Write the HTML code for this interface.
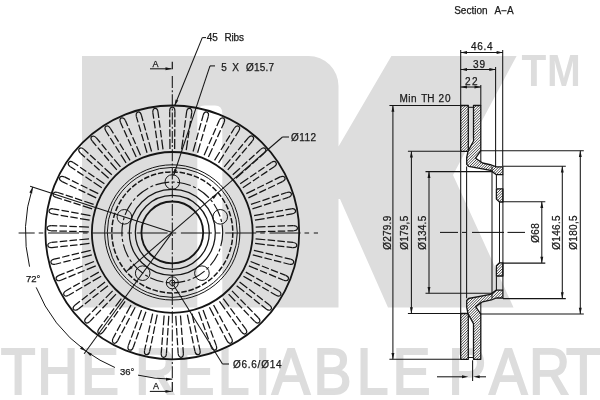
<!DOCTYPE html>
<html lang="en">
<head>
<meta charset="utf-8">
<title>NK brake disc drawing</title>
<style>
html,body{margin:0;padding:0;background:#fff;}
body{width:600px;height:400px;overflow:hidden;font-family:"Liberation Sans",sans-serif;}
svg{display:block;will-change:transform;}
svg text{font-family:"Liberation Sans",sans-serif;}
.wm path,.wm text{fill:#dddddd;}
.ln *{stroke:#151515;fill:none;}
.ah{fill:#151515;stroke:none;}
.tx text{fill:#1a1a1a;stroke:#1a1a1a;stroke-width:0.25;}
.wm .tag{stroke:#dddddd;stroke-width:2;stroke-linejoin:miter;}
.sec .bg{fill:#fff;stroke:none;}
.sec .hl{stroke:#151515;stroke-width:0.8;fill:none;}
.sec .ol{fill:none;stroke:#151515;stroke-width:1.3;stroke-linejoin:round;}
</style>
</head>
<body>
<svg width="600" height="400" viewBox="0 0 600 400">
<rect width="600" height="400" fill="#fff"/>
<g class="wm">
<path d="M82 56 H308.5 A30 30 0 0 1 338.5 86 V146.5 L391.4 56 H516.6 L453 175 L513.5 307.4 H388 L340 199 H338.5 V307.4 H222.3 V113.5 Q222.3 105.5 215 105.5 H204.5 Q197.3 105.5 197.3 112 V307.4 H82 Z"/>
<text transform="scale(0.93 1)" x="560.76 588.29" y="86.3" font-size="43.6" font-weight="bold">TM</text>
<text class="tag" transform="scale(0.875 1)" x="0.99 42.62 92.45 122.45 154.36 201.7 248.77 291.13 310.86 358.25 407.74 448.62 478.62 512.19 559.15 604.48 646.99" y="393.7" font-size="65.1">THE RELIABLE PART</text>
</g>
<g class="ln">
<circle cx="172.3" cy="232.4" r="126.9" stroke-width="1.8"/>
<circle cx="172.3" cy="232.4" r="80.4" stroke-width="1.8"/>
<circle cx="172.3" cy="232.4" r="30.9" stroke-width="1.8"/>
<circle cx="172.3" cy="232.4" r="37" stroke-width="1.25"/>
<circle cx="172.3" cy="232.4" r="43" stroke-width="1.25"/>
<circle cx="172.3" cy="232.4" r="60.5" stroke-width="1.5" stroke-dasharray="5.5 1.8"/>
<circle cx="172.3" cy="232.4" r="65" stroke-width="1.0"/>
<circle cx="172.3" cy="232.4" r="67.6" stroke-width="1.0"/>
<circle cx="172.3" cy="232.4" r="50.4" stroke-width="1.15" stroke-dasharray="14 2.5 3 2.5"/>
<circle cx="172.3" cy="182" r="7.3" stroke-width="1.0"/>
<circle cx="124.37" cy="216.83" r="7.3" stroke-width="1.0"/>
<circle cx="142.68" cy="273.17" r="7.3" stroke-width="1.0"/>
<circle cx="201.92" cy="273.17" r="7.3" stroke-width="1.0"/>
<circle cx="220.23" cy="216.83" r="7.3" stroke-width="1.0"/>
<circle cx="172.3" cy="282.8" r="2.7" stroke-width="1.0"/>
<circle cx="172.3" cy="282.8" r="6" stroke-width="1.0"/>
<path d="M169.7 111.2 L169.95 148.9M174.9 111.2 L174.65 148.9" stroke-width="1.25" stroke-dasharray="6 2.3 7.5 2.3 7.5 2.3 12 2.3"/>
<path d="M169.7 111.2 A4.0 2.6 270 0 1 174.9 111.2" stroke-width="1.2"/>
<path d="M152.86 112.74 L158.35 150.04M158.01 112.02 L163.01 149.39" stroke-width="1.25" stroke-dasharray="6 2.3 7.5 2.3 7.5 2.3 12 2.3"/>
<path d="M152.86 112.74 A4.0 2.6 262 0 1 158.01 112.02" stroke-width="1.2"/>
<path d="M136.39 116.61 L147.03 152.78M141.39 115.18 L151.54 151.49" stroke-width="1.25" stroke-dasharray="6 2.3 7.5 2.3 7.5 2.3 12 2.3"/>
<path d="M136.39 116.61 A4.0 2.6 254 0 1 141.39 115.18" stroke-width="1.2"/>
<path d="M120.63 122.74 L136.19 157.07M125.38 120.62 L140.48 155.16" stroke-width="1.25" stroke-dasharray="6 2.3 7.5 2.3 7.5 2.3 12 2.3"/>
<path d="M120.63 122.74 A4.0 2.6 246 0 1 125.38 120.62" stroke-width="1.2"/>
<path d="M105.87 130.99 L126.06 162.83M110.28 128.24 L130.04 160.34" stroke-width="1.25" stroke-dasharray="6 2.3 7.5 2.3 7.5 2.3 12 2.3"/>
<path d="M105.87 130.99 A4.0 2.6 238 0 1 110.28 128.24" stroke-width="1.2"/>
<path d="M92.4 141.23 L116.83 169.95M96.39 137.88 L120.43 166.92" stroke-width="1.25" stroke-dasharray="6 2.3 7.5 2.3 7.5 2.3 12 2.3"/>
<path d="M92.4 141.23 A4.0 2.6 230 0 1 96.39 137.88" stroke-width="1.2"/>
<path d="M80.49 153.23 L108.67 178.27M83.97 149.37 L111.82 174.78" stroke-width="1.25" stroke-dasharray="6 2.3 7.5 2.3 7.5 2.3 12 2.3"/>
<path d="M80.49 153.23 A4.0 2.6 222 0 1 83.97 149.37" stroke-width="1.2"/>
<path d="M70.37 166.78 L101.76 187.66M73.27 162.47 L104.39 183.76" stroke-width="1.25" stroke-dasharray="6 2.3 7.5 2.3 7.5 2.3 12 2.3"/>
<path d="M70.37 166.78 A4.0 2.6 214 0 1 73.27 162.47" stroke-width="1.2"/>
<path d="M62.23 181.61 L96.22 197.91M64.51 176.93 L98.28 193.68" stroke-width="1.25" stroke-dasharray="6 2.3 7.5 2.3 7.5 2.3 12 2.3"/>
<path d="M62.23 181.61 A4.0 2.6 206 0 1 64.51 176.93" stroke-width="1.2"/>
<path d="M56.23 197.42 L92.16 208.83M57.84 192.47 L93.61 204.36" stroke-width="1.25" stroke-dasharray="6 2.3 7.5 2.3 7.5 2.3 12 2.3"/>
<path d="M56.23 197.42 A4.0 2.6 198 0 1 57.84 192.47" stroke-width="1.2"/>
<path d="M52.49 213.91 L89.66 220.21M53.39 208.79 L90.48 215.59" stroke-width="1.25" stroke-dasharray="6 2.3 7.5 2.3 7.5 2.3 12 2.3"/>
<path d="M52.49 213.91 A4.0 2.6 190 0 1 53.39 208.79" stroke-width="1.2"/>
<path d="M51.08 230.77 L88.77 231.83M51.26 225.57 L88.93 227.14" stroke-width="1.25" stroke-dasharray="6 2.3 7.5 2.3 7.5 2.3 12 2.3"/>
<path d="M51.08 230.77 A4.0 2.6 182 0 1 51.26 225.57" stroke-width="1.2"/>
<path d="M52.04 247.65 L89.5 243.47M51.49 242.48 L89.01 238.79" stroke-width="1.25" stroke-dasharray="6 2.3 7.5 2.3 7.5 2.3 12 2.3"/>
<path d="M52.04 247.65 A4.0 2.6 174 0 1 51.49 242.48" stroke-width="1.2"/>
<path d="M55.33 264.24 L91.85 254.88M54.07 259.2 L90.71 250.32" stroke-width="1.25" stroke-dasharray="6 2.3 7.5 2.3 7.5 2.3 12 2.3"/>
<path d="M55.33 264.24 A4.0 2.6 166 0 1 54.07 259.2" stroke-width="1.2"/>
<path d="M60.9 280.21 L95.76 265.86M58.95 275.39 L94 261.5" stroke-width="1.25" stroke-dasharray="6 2.3 7.5 2.3 7.5 2.3 12 2.3"/>
<path d="M60.9 280.21 A4.0 2.6 158 0 1 58.95 275.39" stroke-width="1.2"/>
<path d="M68.64 295.25 L101.16 276.19M66.04 290.75 L98.81 272.11" stroke-width="1.25" stroke-dasharray="6 2.3 7.5 2.3 7.5 2.3 12 2.3"/>
<path d="M68.64 295.25 A4.0 2.6 150 0 1 66.04 290.75" stroke-width="1.2"/>
<path d="M78.39 309.07 L107.95 285.66M75.19 304.97 L105.05 281.96" stroke-width="1.25" stroke-dasharray="6 2.3 7.5 2.3 7.5 2.3 12 2.3"/>
<path d="M78.39 309.07 A4.0 2.6 142 0 1 75.19 304.97" stroke-width="1.2"/>
<path d="M89.98 321.39 L115.99 294.1M86.24 317.78 L112.61 290.83" stroke-width="1.25" stroke-dasharray="6 2.3 7.5 2.3 7.5 2.3 12 2.3"/>
<path d="M89.98 321.39 A4.0 2.6 134 0 1 86.24 317.78" stroke-width="1.2"/>
<path d="M103.16 331.98 L125.12 301.33M98.96 328.92 L121.32 298.57" stroke-width="1.25" stroke-dasharray="6 2.3 7.5 2.3 7.5 2.3 12 2.3"/>
<path d="M103.16 331.98 A4.0 2.6 126 0 1 98.96 328.92" stroke-width="1.2"/>
<path d="M117.7 340.63 L135.17 307.23M113.1 338.19 L131.02 305.02" stroke-width="1.25" stroke-dasharray="6 2.3 7.5 2.3 7.5 2.3 12 2.3"/>
<path d="M117.7 340.63 A4.0 2.6 118 0 1 113.1 338.19" stroke-width="1.2"/>
<path d="M133.29 347.18 L145.95 311.67M128.4 345.4 L141.53 310.06" stroke-width="1.25" stroke-dasharray="6 2.3 7.5 2.3 7.5 2.3 12 2.3"/>
<path d="M133.29 347.18 A4.0 2.6 110 0 1 128.4 345.4" stroke-width="1.2"/>
<path d="M149.64 351.49 L157.24 314.56M144.56 350.41 L152.64 313.59" stroke-width="1.25" stroke-dasharray="6 2.3 7.5 2.3 7.5 2.3 12 2.3"/>
<path d="M149.64 351.49 A4.0 2.6 102 0 1 144.56 350.41" stroke-width="1.2"/>
<path d="M166.44 353.49 L168.82 315.86M161.25 353.12 L164.13 315.53" stroke-width="1.25" stroke-dasharray="6 2.3 7.5 2.3 7.5 2.3 12 2.3"/>
<path d="M166.44 353.49 A4.0 2.6 94 0 1 161.25 353.12" stroke-width="1.2"/>
<path d="M183.35 353.12 L180.47 315.53M178.16 353.49 L175.78 315.86" stroke-width="1.25" stroke-dasharray="6 2.3 7.5 2.3 7.5 2.3 12 2.3"/>
<path d="M183.35 353.12 A4.0 2.6 86 0 1 178.16 353.49" stroke-width="1.2"/>
<path d="M200.04 350.41 L191.96 313.59M194.96 351.49 L187.36 314.56" stroke-width="1.25" stroke-dasharray="6 2.3 7.5 2.3 7.5 2.3 12 2.3"/>
<path d="M200.04 350.41 A4.0 2.6 78 0 1 194.96 351.49" stroke-width="1.2"/>
<path d="M216.2 345.4 L203.07 310.06M211.31 347.18 L198.65 311.67" stroke-width="1.25" stroke-dasharray="6 2.3 7.5 2.3 7.5 2.3 12 2.3"/>
<path d="M216.2 345.4 A4.0 2.6 70 0 1 211.31 347.18" stroke-width="1.2"/>
<path d="M231.5 338.19 L213.58 305.02M226.9 340.63 L209.43 307.23" stroke-width="1.25" stroke-dasharray="6 2.3 7.5 2.3 7.5 2.3 12 2.3"/>
<path d="M231.5 338.19 A4.0 2.6 62 0 1 226.9 340.63" stroke-width="1.2"/>
<path d="M245.64 328.92 L223.28 298.57M241.44 331.98 L219.48 301.33" stroke-width="1.25" stroke-dasharray="6 2.3 7.5 2.3 7.5 2.3 12 2.3"/>
<path d="M245.64 328.92 A4.0 2.6 54 0 1 241.44 331.98" stroke-width="1.2"/>
<path d="M258.36 317.78 L231.99 290.83M254.62 321.39 L228.61 294.1" stroke-width="1.25" stroke-dasharray="6 2.3 7.5 2.3 7.5 2.3 12 2.3"/>
<path d="M258.36 317.78 A4.0 2.6 46 0 1 254.62 321.39" stroke-width="1.2"/>
<path d="M269.41 304.97 L239.55 281.96M266.21 309.07 L236.65 285.66" stroke-width="1.25" stroke-dasharray="6 2.3 7.5 2.3 7.5 2.3 12 2.3"/>
<path d="M269.41 304.97 A4.0 2.6 38 0 1 266.21 309.07" stroke-width="1.2"/>
<path d="M278.56 290.75 L245.79 272.11M275.96 295.25 L243.44 276.19" stroke-width="1.25" stroke-dasharray="6 2.3 7.5 2.3 7.5 2.3 12 2.3"/>
<path d="M278.56 290.75 A4.0 2.6 30 0 1 275.96 295.25" stroke-width="1.2"/>
<path d="M285.65 275.39 L250.6 261.5M283.7 280.21 L248.84 265.86" stroke-width="1.25" stroke-dasharray="6 2.3 7.5 2.3 7.5 2.3 12 2.3"/>
<path d="M285.65 275.39 A4.0 2.6 22 0 1 283.7 280.21" stroke-width="1.2"/>
<path d="M290.53 259.2 L253.89 250.32M289.27 264.24 L252.75 254.88" stroke-width="1.25" stroke-dasharray="6 2.3 7.5 2.3 7.5 2.3 12 2.3"/>
<path d="M290.53 259.2 A4.0 2.6 14 0 1 289.27 264.24" stroke-width="1.2"/>
<path d="M293.11 242.48 L255.59 238.79M292.56 247.65 L255.1 243.47" stroke-width="1.25" stroke-dasharray="6 2.3 7.5 2.3 7.5 2.3 12 2.3"/>
<path d="M293.11 242.48 A4.0 2.6 6 0 1 292.56 247.65" stroke-width="1.2"/>
<path d="M293.34 225.57 L255.67 227.14M293.52 230.77 L255.83 231.83" stroke-width="1.25" stroke-dasharray="6 2.3 7.5 2.3 7.5 2.3 12 2.3"/>
<path d="M293.34 225.57 A4.0 2.6 358 0 1 293.52 230.77" stroke-width="1.2"/>
<path d="M291.21 208.79 L254.12 215.59M292.11 213.91 L254.94 220.21" stroke-width="1.25" stroke-dasharray="6 2.3 7.5 2.3 7.5 2.3 12 2.3"/>
<path d="M291.21 208.79 A4.0 2.6 350 0 1 292.11 213.91" stroke-width="1.2"/>
<path d="M286.76 192.47 L250.99 204.36M288.37 197.42 L252.44 208.83" stroke-width="1.25" stroke-dasharray="6 2.3 7.5 2.3 7.5 2.3 12 2.3"/>
<path d="M286.76 192.47 A4.0 2.6 342 0 1 288.37 197.42" stroke-width="1.2"/>
<path d="M280.09 176.93 L246.32 193.68M282.37 181.61 L248.38 197.91" stroke-width="1.25" stroke-dasharray="6 2.3 7.5 2.3 7.5 2.3 12 2.3"/>
<path d="M280.09 176.93 A4.0 2.6 334 0 1 282.37 181.61" stroke-width="1.2"/>
<path d="M271.33 162.47 L240.21 183.76M274.23 166.78 L242.84 187.66" stroke-width="1.25" stroke-dasharray="6 2.3 7.5 2.3 7.5 2.3 12 2.3"/>
<path d="M271.33 162.47 A4.0 2.6 326 0 1 274.23 166.78" stroke-width="1.2"/>
<path d="M260.63 149.37 L232.78 174.78M264.11 153.23 L235.93 178.27" stroke-width="1.25" stroke-dasharray="6 2.3 7.5 2.3 7.5 2.3 12 2.3"/>
<path d="M260.63 149.37 A4.0 2.6 318 0 1 264.11 153.23" stroke-width="1.2"/>
<path d="M248.21 137.88 L224.17 166.92M252.2 141.23 L227.77 169.95" stroke-width="1.25" stroke-dasharray="6 2.3 7.5 2.3 7.5 2.3 12 2.3"/>
<path d="M248.21 137.88 A4.0 2.6 310 0 1 252.2 141.23" stroke-width="1.2"/>
<path d="M234.32 128.24 L214.56 160.34M238.73 130.99 L218.54 162.83" stroke-width="1.25" stroke-dasharray="6 2.3 7.5 2.3 7.5 2.3 12 2.3"/>
<path d="M234.32 128.24 A4.0 2.6 302 0 1 238.73 130.99" stroke-width="1.2"/>
<path d="M219.22 120.62 L204.12 155.16M223.97 122.74 L208.41 157.07" stroke-width="1.25" stroke-dasharray="6 2.3 7.5 2.3 7.5 2.3 12 2.3"/>
<path d="M219.22 120.62 A4.0 2.6 294 0 1 223.97 122.74" stroke-width="1.2"/>
<path d="M203.21 115.18 L193.06 151.49M208.21 116.61 L197.57 152.78" stroke-width="1.25" stroke-dasharray="6 2.3 7.5 2.3 7.5 2.3 12 2.3"/>
<path d="M203.21 115.18 A4.0 2.6 286 0 1 208.21 116.61" stroke-width="1.2"/>
<path d="M186.59 112.02 L181.59 149.39M191.74 112.74 L186.25 150.04" stroke-width="1.25" stroke-dasharray="6 2.3 7.5 2.3 7.5 2.3 12 2.3"/>
<path d="M186.59 112.02 A4.0 2.6 278 0 1 191.74 112.74" stroke-width="1.2"/>
<line x1="172.3" y1="61.7" x2="172.3" y2="69.3" stroke-width="1.2"/>
<line x1="172.3" y1="76" x2="172.3" y2="226" stroke-width="1.05" stroke-dasharray="12 2.2 2 2.1"/>
<line x1="172.3" y1="378.2" x2="172.3" y2="226" stroke-width="1.05" stroke-dasharray="12 2.2 2 2.1"/>
<line x1="172.3" y1="382" x2="172.3" y2="391.8" stroke-width="1.2"/>
<line x1="18.6" y1="232.9" x2="318" y2="232.9" stroke-width="1.05" stroke-dasharray="31 4 4.6 4.7" stroke-dashoffset="14.9"/>
<line x1="172.3" y1="232.4" x2="30.12" y2="186.2" stroke-width="1.05"/>
<line x1="172.3" y1="232.4" x2="84.13" y2="353.75" stroke-width="1.05"/>
<path d="M32.68 187.04 A146.8 146.8 0 0 0 29.56 266.67" stroke-width="1.0"/>
<path d="M36.19 287.39 A146.8 146.8 0 0 0 86.01 351.16" stroke-width="1.0"/>
<path d="M86.01 351.16 A146.8 146.8 0 0 0 114.94 367.53" stroke-width="1.0"/>
<path d="M138.03 375.14 A146.8 146.8 0 0 0 172.3 379.2" stroke-width="1.0"/>
<line x1="282.5" y1="137" x2="126.99" y2="270.96" stroke-width="1.05"/>
<line x1="282.5" y1="137" x2="289" y2="137" stroke-width="1.05"/>
<line x1="206" y1="37.6" x2="202.3" y2="37.6" stroke-width="1.05"/>
<line x1="202.3" y1="37.6" x2="174.6" y2="105.8" stroke-width="1.05"/>
<line x1="215" y1="65.9" x2="210" y2="65.9" stroke-width="1.05"/>
<line x1="210" y1="65.9" x2="173.6" y2="175.5" stroke-width="1.05"/>
<line x1="173.5" y1="285" x2="222.5" y2="364" stroke-width="1.05"/>
<line x1="222.5" y1="364" x2="229" y2="364" stroke-width="1.05"/>
<line x1="150" y1="68.8" x2="171.5" y2="68.8" stroke-width="1.05"/>
<line x1="149.8" y1="391.4" x2="171.5" y2="391.4" stroke-width="1.05"/>
</g>
<g>
<polygon class="ah" points="171.8,68.8 165.5,70.25 165.5,67.35"/>
<polygon class="ah" points="171.8,391.4 165.5,392.85 165.5,389.95"/>
<polygon class="ah" points="174.6,105.8 175.63,99.42 178.31,100.51"/>
<polygon class="ah" points="173.6,175.5 174.21,169.06 176.96,169.98"/>
<polygon class="ah" points="126.99,270.96 130.82,265.75 132.71,267.95"/>
<polygon class="ah" points="217.61,193.84 213.78,199.05 211.89,196.85"/>
<polygon class="ah" points="32.68,187.04 32.12,193.48 29.36,192.58"/>
<polygon class="ah" points="86.01,351.16 80.06,348.63 81.77,346.29"/>
<polygon class="ah" points="86.01,351.16 91.96,353.69 90.26,356.04"/>
<polygon class="ah" points="172.3,379.2 166,380.65 166,377.75"/>
</g>
<clipPath id="secclip">
<polygon points="460.7,105.5 468.3,105.5 468.3,150.6 473.5,141 473.5,105.5 480.8,105.5 480.8,150.6 475.6,158.2 482.5,163 491.4,165 496.4,166.8 502.9,166.8 502.9,174.7 496.4,174.7 490.5,170.4 468.6,166.3 466.7,164.4 466.7,157.5 468,151.3 460.7,151.3"/>
<polygon points="460.7,359.3 468.3,359.3 468.3,314.2 473.5,323.8 473.5,359.3 480.8,359.3 480.8,314.2 475.6,306.6 482.5,301.8 491.4,299.8 496.4,298 502.9,298 502.9,290.1 496.4,290.1 490.5,294.4 468.6,298.5 466.7,300.4 466.7,307.3 468,313.5 460.7,313.5"/>
<polygon points="496.4,188.8 502.9,188.8 502.9,202 499.5,202 496.4,199.1"/>
<polygon points="496.4,276 502.9,276 502.9,262.8 499.5,262.8 496.4,265.7"/>
</clipPath>
<g class="sec">
<polygon class="bg" points="460.7,105.5 468.3,105.5 468.3,150.6 473.5,141 473.5,105.5 480.8,105.5 480.8,150.6 475.6,158.2 482.5,163 491.4,165 496.4,166.8 502.9,166.8 502.9,174.7 496.4,174.7 490.5,170.4 468.6,166.3 466.7,164.4 466.7,157.5 468,151.3 460.7,151.3"/>
<polygon class="bg" points="460.7,359.3 468.3,359.3 468.3,314.2 473.5,323.8 473.5,359.3 480.8,359.3 480.8,314.2 475.6,306.6 482.5,301.8 491.4,299.8 496.4,298 502.9,298 502.9,290.1 496.4,290.1 490.5,294.4 468.6,298.5 466.7,300.4 466.7,307.3 468,313.5 460.7,313.5"/>
<polygon class="bg" points="496.4,188.8 502.9,188.8 502.9,202 499.5,202 496.4,199.1"/>
<polygon class="bg" points="496.4,276 502.9,276 502.9,262.8 499.5,262.8 496.4,265.7"/>
<path class="hl" clip-path="url(#secclip)" d="M455 100L190 365M457.7 100L192.7 365M460.4 100L195.4 365M463.1 100L198.1 365M465.8 100L200.8 365M468.5 100L203.5 365M471.2 100L206.2 365M473.9 100L208.9 365M476.6 100L211.6 365M479.3 100L214.3 365M482 100L217 365M484.7 100L219.7 365M487.4 100L222.4 365M490.1 100L225.1 365M492.8 100L227.8 365M495.5 100L230.5 365M498.2 100L233.2 365M500.9 100L235.9 365M503.6 100L238.6 365M506.3 100L241.3 365M509 100L244 365M511.7 100L246.7 365M514.4 100L249.4 365M517.1 100L252.1 365M519.8 100L254.8 365M522.5 100L257.5 365M525.2 100L260.2 365M527.9 100L262.9 365M530.6 100L265.6 365M533.3 100L268.3 365M536 100L271 365M538.7 100L273.7 365M541.4 100L276.4 365M544.1 100L279.1 365M546.8 100L281.8 365M549.5 100L284.5 365M552.2 100L287.2 365M554.9 100L289.9 365M557.6 100L292.6 365M560.3 100L295.3 365M563 100L298 365M565.7 100L300.7 365M568.4 100L303.4 365M571.1 100L306.1 365M573.8 100L308.8 365M576.5 100L311.5 365M579.2 100L314.2 365M581.9 100L316.9 365M584.6 100L319.6 365M587.3 100L322.3 365M590 100L325 365M592.7 100L327.7 365M595.4 100L330.4 365M598.1 100L333.1 365M600.8 100L335.8 365M603.5 100L338.5 365M606.2 100L341.2 365M608.9 100L343.9 365M611.6 100L346.6 365M614.3 100L349.3 365M617 100L352 365M619.7 100L354.7 365M622.4 100L357.4 365M625.1 100L360.1 365M627.8 100L362.8 365M630.5 100L365.5 365M633.2 100L368.2 365M635.9 100L370.9 365M638.6 100L373.6 365M641.3 100L376.3 365M644 100L379 365M646.7 100L381.7 365M649.4 100L384.4 365M652.1 100L387.1 365M654.8 100L389.8 365M657.5 100L392.5 365M660.2 100L395.2 365M662.9 100L397.9 365M665.6 100L400.6 365M668.3 100L403.3 365M671 100L406 365M673.7 100L408.7 365M676.4 100L411.4 365M679.1 100L414.1 365M681.8 100L416.8 365M684.5 100L419.5 365M687.2 100L422.2 365M689.9 100L424.9 365M692.6 100L427.6 365M695.3 100L430.3 365M698 100L433 365M700.7 100L435.7 365M703.4 100L438.4 365M706.1 100L441.1 365M708.8 100L443.8 365M711.5 100L446.5 365M714.2 100L449.2 365M716.9 100L451.9 365M719.6 100L454.6 365M722.3 100L457.3 365M725 100L460 365M727.7 100L462.7 365M730.4 100L465.4 365M733.1 100L468.1 365M735.8 100L470.8 365M738.5 100L473.5 365M741.2 100L476.2 365M743.9 100L478.9 365M746.6 100L481.6 365M749.3 100L484.3 365M752 100L487 365M754.7 100L489.7 365M757.4 100L492.4 365M760.1 100L495.1 365M762.8 100L497.8 365M765.5 100L500.5 365M768.2 100L503.2 365M770.9 100L505.9 365M773.6 100L508.6 365"/>
<polygon class="ol" points="460.7,105.5 468.3,105.5 468.3,150.6 473.5,141 473.5,105.5 480.8,105.5 480.8,150.6 475.6,158.2 482.5,163 491.4,165 496.4,166.8 502.9,166.8 502.9,174.7 496.4,174.7 490.5,170.4 468.6,166.3 466.7,164.4 466.7,157.5 468,151.3 460.7,151.3"/>
<polygon class="ol" points="460.7,359.3 468.3,359.3 468.3,314.2 473.5,323.8 473.5,359.3 480.8,359.3 480.8,314.2 475.6,306.6 482.5,301.8 491.4,299.8 496.4,298 502.9,298 502.9,290.1 496.4,290.1 490.5,294.4 468.6,298.5 466.7,300.4 466.7,307.3 468,313.5 460.7,313.5"/>
<polygon class="ol" points="496.4,188.8 502.9,188.8 502.9,202 499.5,202 496.4,199.1"/>
<polygon class="ol" points="496.4,276 502.9,276 502.9,262.8 499.5,262.8 496.4,265.7"/>
</g>
<g class="ln">
<line x1="466.6" y1="166.5" x2="466.6" y2="298.3" stroke-width="1.05"/>
<line x1="492" y1="166.5" x2="492" y2="298.3" stroke-width="1.05"/>
<line x1="460.7" y1="151.3" x2="460.7" y2="313.5" stroke-width="1.05"/>
<line x1="502.9" y1="174.7" x2="502.9" y2="290.1" stroke-width="1.05"/>
<line x1="496.4" y1="174.7" x2="496.4" y2="188.6" stroke-width="1.05"/>
<line x1="496.4" y1="290.1" x2="496.4" y2="276.2" stroke-width="1.05"/>
<line x1="499.5" y1="202" x2="499.5" y2="262.8" stroke-width="1.05"/>
<line x1="480.8" y1="150.6" x2="480.8" y2="162.5" stroke-width="1.05"/>
<line x1="480.8" y1="314.2" x2="480.8" y2="302.3" stroke-width="1.05"/>
<line x1="440" y1="232.4" x2="458" y2="232.4" stroke-width="1.05"/>
<line x1="462" y1="232.4" x2="466.5" y2="232.4" stroke-width="1.05"/>
<line x1="472" y1="232.4" x2="504" y2="232.4" stroke-width="1.05"/>
<line x1="507.5" y1="232.4" x2="525" y2="232.4" stroke-width="1.05"/>
<line x1="468.3" y1="107.3" x2="473.5" y2="107.3" stroke-width="1.05"/>
<line x1="468.3" y1="357.5" x2="473.5" y2="357.5" stroke-width="1.05"/>
<line x1="460.7" y1="50" x2="460.7" y2="105.5" stroke-width="1.05"/>
<line x1="502.7" y1="50" x2="502.7" y2="166.2" stroke-width="1.05"/>
<line x1="495.6" y1="67" x2="495.6" y2="166.2" stroke-width="1.05"/>
<line x1="480.8" y1="85" x2="480.8" y2="105.5" stroke-width="1.05"/>
<line x1="460.7" y1="52.5" x2="502.9" y2="52.5" stroke-width="1.05"/>
<line x1="460.7" y1="69.5" x2="495.6" y2="69.5" stroke-width="1.05"/>
<line x1="460.7" y1="87" x2="480.8" y2="87" stroke-width="1.05"/>
<line x1="392.9" y1="105.5" x2="392.9" y2="359.3" stroke-width="1.05"/>
<line x1="389.4" y1="105.5" x2="460.7" y2="105.5" stroke-width="1.05"/>
<line x1="389.4" y1="359.3" x2="460.7" y2="359.3" stroke-width="1.05"/>
<line x1="411.4" y1="151.3" x2="411.4" y2="313.5" stroke-width="1.05"/>
<line x1="407.9" y1="151.3" x2="460.7" y2="151.3" stroke-width="1.05"/>
<line x1="407.9" y1="313.5" x2="460.7" y2="313.5" stroke-width="1.05"/>
<line x1="429" y1="171.6" x2="429" y2="293.2" stroke-width="1.05"/>
<line x1="425.5" y1="171.6" x2="491.6" y2="171.6" stroke-width="1.05"/>
<line x1="425.5" y1="293.2" x2="491.6" y2="293.2" stroke-width="1.05"/>
<line x1="541.8" y1="201.7" x2="541.8" y2="263.1" stroke-width="1.05"/>
<line x1="502.9" y1="201.7" x2="545.3" y2="201.7" stroke-width="1.05"/>
<line x1="502.9" y1="263.1" x2="545.3" y2="263.1" stroke-width="1.05"/>
<line x1="562.3" y1="166.2" x2="562.3" y2="298.6" stroke-width="1.05"/>
<line x1="502.9" y1="166.2" x2="565.8" y2="166.2" stroke-width="1.05"/>
<line x1="502.9" y1="298.6" x2="565.8" y2="298.6" stroke-width="1.05"/>
<line x1="580.3" y1="150.8" x2="580.3" y2="314" stroke-width="1.05"/>
<line x1="480.8" y1="150.8" x2="583.8" y2="150.8" stroke-width="1.05"/>
<line x1="480.8" y1="314" x2="583.8" y2="314" stroke-width="1.05"/>
<line x1="437" y1="376.8" x2="463" y2="376.8" stroke-width="1.05"/>
<line x1="478" y1="376.8" x2="486" y2="376.8" stroke-width="1.05"/>
<line x1="472.6" y1="360.3" x2="472.6" y2="381" stroke-width="1.05"/>
</g>
<g>
<polygon class="ah" points="392.9,105.5 394.35,111.8 391.45,111.8"/>
<polygon class="ah" points="392.9,359.3 391.45,353 394.35,353"/>
<polygon class="ah" points="411.4,151.3 412.85,157.6 409.95,157.6"/>
<polygon class="ah" points="411.4,313.5 409.95,307.2 412.85,307.2"/>
<polygon class="ah" points="429,171.6 430.45,177.9 427.55,177.9"/>
<polygon class="ah" points="429,293.2 427.55,286.9 430.45,286.9"/>
<polygon class="ah" points="541.8,201.7 543.25,208 540.35,208"/>
<polygon class="ah" points="541.8,263.1 540.35,256.8 543.25,256.8"/>
<polygon class="ah" points="562.3,166.2 563.75,172.5 560.85,172.5"/>
<polygon class="ah" points="562.3,298.6 560.85,292.3 563.75,292.3"/>
<polygon class="ah" points="580.3,150.8 581.75,157.1 578.85,157.1"/>
<polygon class="ah" points="580.3,314 578.85,307.7 581.75,307.7"/>
<polygon class="ah" points="460.7,52.5 467,51.05 467,53.95"/>
<polygon class="ah" points="502.9,52.5 496.6,53.95 496.6,51.05"/>
<polygon class="ah" points="460.7,69.5 467,68.05 467,70.95"/>
<polygon class="ah" points="495.6,69.5 489.3,70.95 489.3,68.05"/>
<polygon class="ah" points="460.7,87 467,85.55 467,88.45"/>
<polygon class="ah" points="480.8,87 474.5,88.45 474.5,85.55"/>
<polygon class="ah" points="468.3,376.8 462,378.25 462,375.35"/>
<polygon class="ah" points="473.4,376.8 479.7,375.35 479.7,378.25"/>
</g>
<g class="tx">
<text y="14.3" font-size="10"><tspan x="454.2">Section</tspan> <tspan x="494.5">A−A</tspan></text>
<text y="40.9" font-size="10"><tspan x="206.8">45</tspan> <tspan x="224.5" textLength="19.5" lengthAdjust="spacing">Ribs</tspan></text>
<text y="70.8" font-size="10"><tspan x="221.2">5</tspan> <tspan x="232.3">X</tspan> <tspan x="246" textLength="28" lengthAdjust="spacing">Ø15.7</tspan></text>
<text x="291" y="141.2" font-size="10" textLength="25" lengthAdjust="spacing">Ø112</text>
<text x="233" y="367.6" font-size="10" textLength="48.5" lengthAdjust="spacing">Ø6.6/Ø14</text>
<text x="152.4" y="66.8" font-size="9">A</text>
<text x="153" y="389.3" font-size="9">A</text>
<text x="26" y="282.2" font-size="9.5">72°</text>
<text x="120" y="375.2" font-size="9.5">36°</text>
<text y="101.5" font-size="10"><tspan x="399.5" textLength="17" lengthAdjust="spacing">Min</tspan> <tspan x="421.2">TH</tspan> <tspan x="438.5" textLength="12" lengthAdjust="spacing">20</tspan></text>
<text x="471" y="50.2" font-size="10" textLength="21.5" lengthAdjust="spacing">46.4</text>
<text x="473" y="67.6" font-size="10" textLength="12" lengthAdjust="spacing">39</text>
<text x="465" y="85.2" font-size="10" textLength="12.5" lengthAdjust="spacing">22</text>
<text transform="translate(390.7 232.8) rotate(-90)" text-anchor="middle" font-size="10" textLength="34" lengthAdjust="spacing">Ø279.9</text>
<text transform="translate(407.5 232.8) rotate(-90)" text-anchor="middle" font-size="10" textLength="34" lengthAdjust="spacing">Ø179,5</text>
<text transform="translate(426.1 232.8) rotate(-90)" text-anchor="middle" font-size="10" textLength="34" lengthAdjust="spacing">Ø134.5</text>
<text transform="translate(539.2 233) rotate(-90)" text-anchor="middle" font-size="10" textLength="19.5" lengthAdjust="spacing">Ø68</text>
<text transform="translate(560 232.6) rotate(-90)" text-anchor="middle" font-size="10" textLength="34.5" lengthAdjust="spacing">Ø146.5</text>
<text transform="translate(577.2 232.6) rotate(-90)" text-anchor="middle" font-size="10" textLength="34.5" lengthAdjust="spacing">Ø180,5</text>
</g>
</svg>
</body>
</html>
